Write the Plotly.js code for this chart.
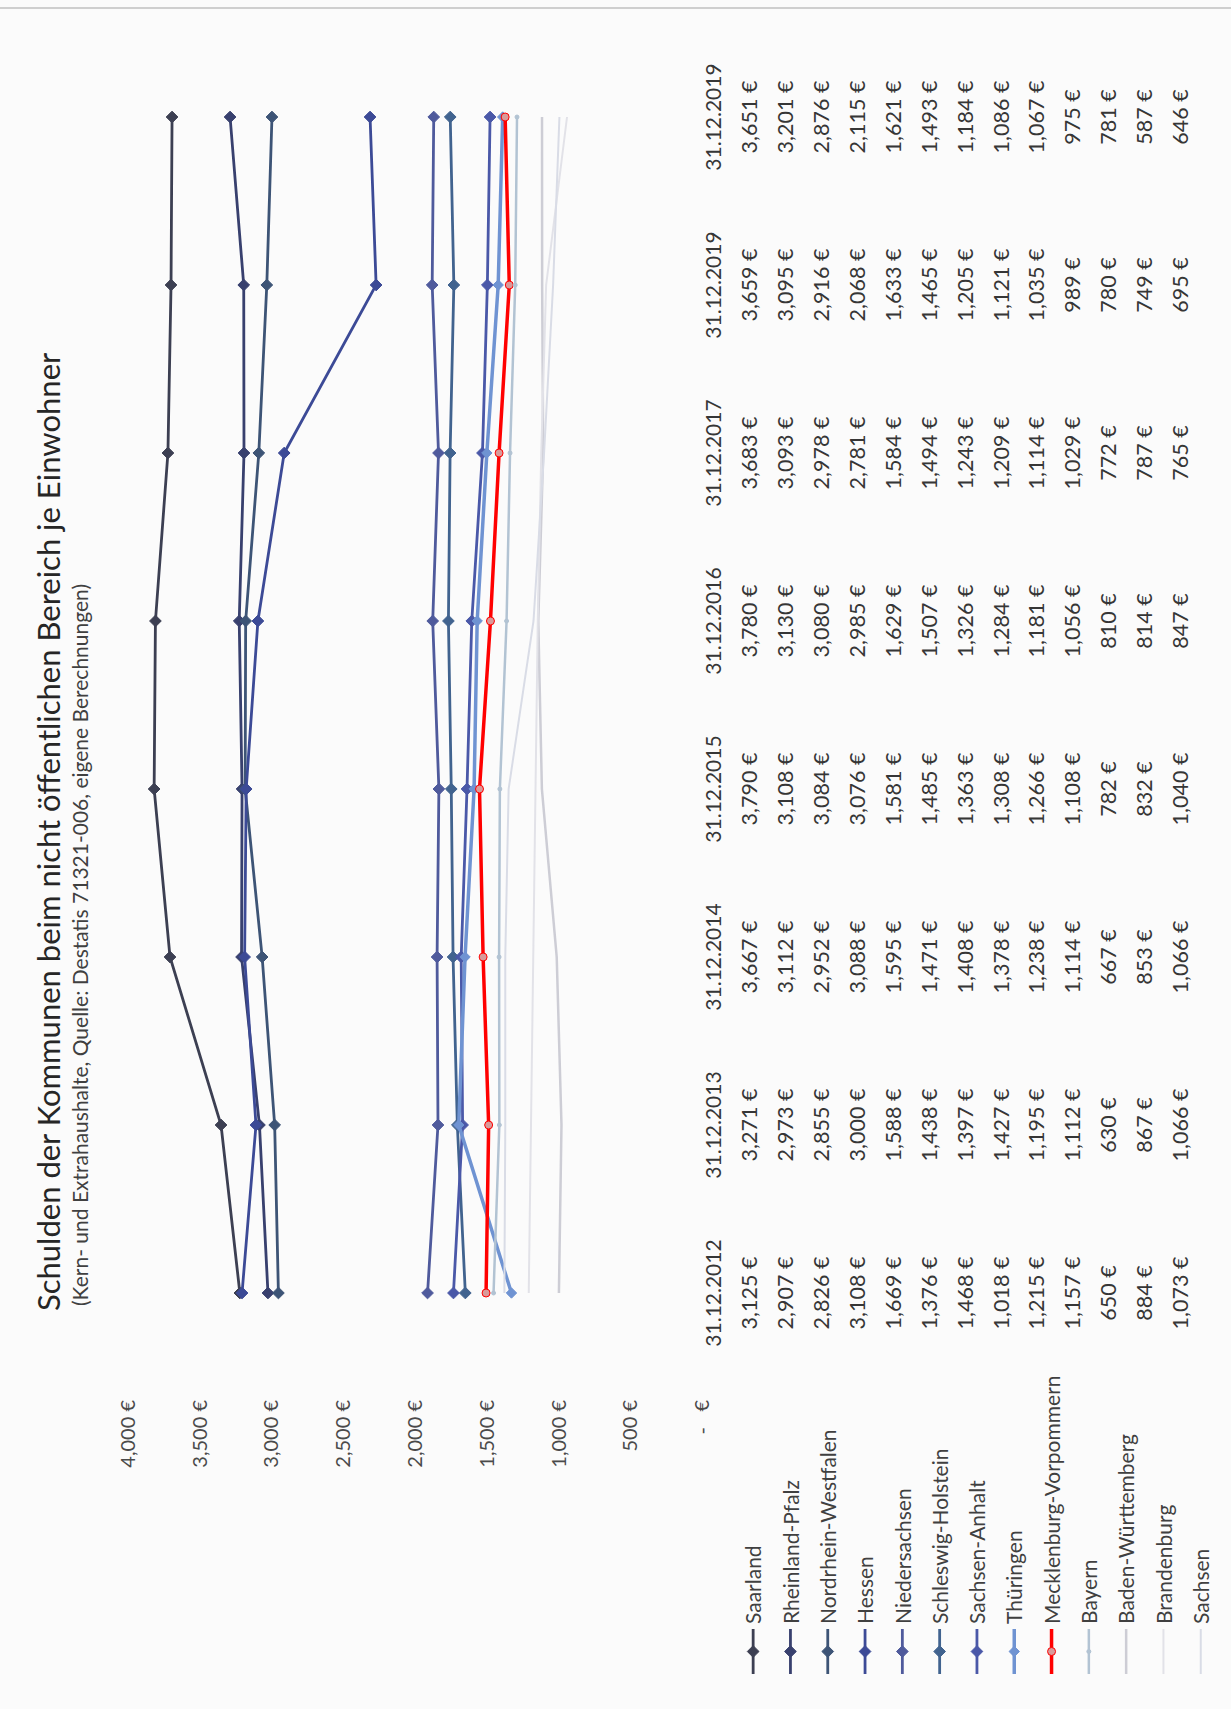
<!DOCTYPE html>
<html>
<head>
<meta charset="utf-8">
<script src="https://cdn.plot.ly/plotly-3.0.1.min.js"></script>
<style>
  html, body { margin: 0; padding: 0; background: #ffffff; overflow: hidden; }
  #blatt { position: absolute; left: 0; top: 0; width: 1231px; height: 1709px; overflow: hidden; background: #ffffff; }
  /* the chart is laid out in landscape and turned onto the portrait page */
  #chart { position: absolute; left: 0; top: 0; width: 1709px; height: 1231px;
           transform-origin: 0 0; transform: translate(0px, 1709px) rotate(-90deg); }
</style>
</head>
<body>
<div id="blatt"><div id="chart"></div></div>
<script>
// Stichtage (the sheet labels the last two columns identically)
const stichtage = ['31.12.2012', '31.12.2013', '31.12.2014', '31.12.2015',
                   '31.12.2016', '31.12.2017', '31.12.2019', '31.12.2019'];

const laender = ['Saarland', 'Rheinland-Pfalz', 'Nordrhein-Westfalen', 'Hessen',
                 'Niedersachsen', 'Schleswig-Holstein', 'Sachsen-Anhalt', 'Thüringen',
                 'Mecklenburg-Vorpommern', 'Bayern', 'Baden-Württemberg', 'Brandenburg', 'Sachsen'];

// Schulden je Einwohner in Euro
const saarland              = [3125, 3271, 3667, 3790, 3780, 3683, 3659, 3651];
const rheinlandPfalz        = [2907, 2973, 3112, 3108, 3130, 3093, 3095, 3201];
const nordrheinWestfalen    = [2826, 2855, 2952, 3084, 3080, 2978, 2916, 2876];
const hessen                = [3108, 3000, 3088, 3076, 2985, 2781, 2068, 2115];
const niedersachsen         = [1669, 1588, 1595, 1581, 1629, 1584, 1633, 1621];
const schleswigHolstein     = [1376, 1438, 1471, 1485, 1507, 1494, 1465, 1493];
const sachsenAnhalt         = [1468, 1397, 1408, 1363, 1326, 1243, 1205, 1184];
const thueringen            = [1018, 1427, 1378, 1308, 1284, 1209, 1121, 1086];
const mecklenburgVorpommern = [1215, 1195, 1238, 1266, 1181, 1114, 1035, 1067];
const bayern                = [1157, 1112, 1114, 1108, 1056, 1029,  989,  975];
const badenWuerttemberg     = [ 650,  630,  667,  782,  810,  772,  780,  781];
const brandenburg           = [ 884,  867,  853,  832,  814,  787,  749,  587];
const sachsen               = [1073, 1066, 1066, 1040,  847,  765,  695,  646];

// value axis labels
const achsenWerte = [0, 500, 1000, 1500, 2000, 2500, 3000, 3500, 4000];
const achsenText  = ['-   €', '500 €', '1,000 €', '1,500 €', '2,000 €', '2,500 €', '3,000 €', '3,500 €', '4,000 €'];

const reihen = [saarland, rheinlandPfalz, nordrheinWestfalen, hessen, niedersachsen,
                schleswigHolstein, sachsenAnhalt, thueringen, mecklenburgVorpommern,
                bayern, badenWuerttemberg, brandenburg, sachsen];

// line styles per state
const stil = [
  { farbe: '#3c3f52', breite: 2.8, symbol: 'diamond', groesse: 9, fuellung: '#3c3f52' },
  { farbe: '#38406e', breite: 2.8, symbol: 'diamond', groesse: 9, fuellung: '#38406e' },
  { farbe: '#3d5476', breite: 2.8, symbol: 'diamond', groesse: 9, fuellung: '#3d5476' },
  { farbe: '#3c4a96', breite: 2.8, symbol: 'diamond', groesse: 9, fuellung: '#3c4a96' },
  { farbe: '#4f5a9c', breite: 2.8, symbol: 'diamond', groesse: 9, fuellung: '#4f5a9c' },
  { farbe: '#41638f', breite: 2.8, symbol: 'diamond', groesse: 9, fuellung: '#41638f' },
  { farbe: '#4a58a8', breite: 2.8, symbol: 'diamond', groesse: 9, fuellung: '#4a58a8' },
  { farbe: '#6f93d2', breite: 3.5, symbol: 'diamond', groesse: 8, fuellung: '#6f93d2' },
  { farbe: '#ff0000', breite: 3.5, symbol: 'circle',  groesse: 8, fuellung: '#d99a9a' },
  { farbe: '#b2c3d3', breite: 2.5, symbol: 'circle',  groesse: 4, fuellung: '#b2c3d3' },
  { farbe: '#cdcdd5', breite: 2.5, symbol: 'circle',  groesse: 0, fuellung: '#cdcdd5' },
  { farbe: '#e2e2e8', breite: 2,   symbol: 'circle',  groesse: 0, fuellung: '#e2e2e8' },
  { farbe: '#d9dce6', breite: 2,   symbol: 'circle',  groesse: 0, fuellung: '#d9dce6' }
];

const idx = stichtage.map((_, i) => i);
const euro = v => v.toLocaleString('en-US') + ' €';
const schrift = 'Lato, "Open Sans", sans-serif';

const traces = [];

// lines
reihen.forEach((werte, j) => {
  const s = stil[j];
  traces.push({
    type: 'scatter', mode: s.groesse > 0 ? 'lines+markers' : 'lines',
    name: laender[j], legendgroup: laender[j],
    x: idx, y: werte, xaxis: 'x', yaxis: 'y',
    line: { color: s.farbe, width: s.breite },
    marker: { symbol: s.symbol, size: s.groesse, color: s.fuellung,
              line: { color: s.farbe, width: 1 } },
    hoverinfo: 'skip'
  });
});

// empty trace that carries the labelled value axis
traces.push({
  type: 'scatter', mode: 'markers', showlegend: false, hoverinfo: 'skip',
  x: [null], y: [null], xaxis: 'x', yaxis: 'y2'
});

// data table: header row and one row per state
traces.push({
  type: 'scatter', mode: 'text', showlegend: false, hoverinfo: 'skip',
  x: idx, y: idx.map(() => 0), xaxis: 'x', yaxis: 'y3',
  text: stichtage, textposition: 'middle center',
  textfont: { family: schrift, size: 21, color: '#363636' }
});
reihen.forEach((werte, j) => {
  traces.push({
    type: 'scatter', mode: 'text', showlegend: false, hoverinfo: 'skip',
    x: idx, y: idx.map(() => j + 1), xaxis: 'x', yaxis: 'y3',
    text: werte.map(euro), textposition: 'middle center',
    textfont: { family: schrift, size: 21.5, color: '#363636' }
  });
});

const W = 1709, H = 1231;

const layout = {
  width: W, height: H,
  margin: { l: 0, r: 0, t: 0, b: 0, pad: 0 },
  paper_bgcolor: '#fbfbfb', plot_bgcolor: 'rgba(0,0,0,0)',
  font: { family: schrift, color: '#404040' },
  showlegend: true,
  xaxis: {
    domain: [332 / W, 1676 / W], range: [-0.5, stichtage.length - 0.5],
    showticklabels: false, showgrid: false, zeroline: false, showline: false, ticks: ''
  },
  yaxis: {
    domain: [1 - 720 / H, 1 - 100 / H], range: [-599.7, 4210],
    showticklabels: false, showgrid: false, zeroline: false, showline: false, ticks: ''
  },
  yaxis2: {
    overlaying: 'y', anchor: 'free', position: 309 / W, side: 'left',
    range: [-125.4, 4195],
    tickmode: 'array', tickvals: achsenWerte, ticktext: achsenText,
    tickfont: { family: schrift, size: 20, color: '#4a4a4a' },
    showgrid: false, zeroline: false, showline: false, ticks: ''
  },
  yaxis3: {
    domain: [1 - 1200.7 / H, 1 - 698 / H], range: [13.5, -0.5],
    anchor: 'x', showticklabels: false, showgrid: false, zeroline: false, showline: false, ticks: ''
  },
  legend: {
    x: 30 / W, xanchor: 'left', y: 1 - 733 / H, yanchor: 'top',
    bgcolor: 'rgba(0,0,0,0)', borderwidth: 0, itemwidth: 45,
    traceorder: 'grouped', tracegroupgap: 7,
    font: { family: schrift, size: 21, color: '#404040' }
  },
  annotations: [
    { text: 'Schulden der Kommunen beim nicht öffentlichen Bereich je Einwohner',
      xref: 'paper', yref: 'paper', x: 396 / W, y: 1 - 48 / H, xanchor: 'left', yanchor: 'middle',
      showarrow: false, font: { family: schrift, size: 31, color: '#262626' } },
    { text: '(Kern- und Extrahaushalte, Quelle: Destatis 71321-006, eigene Berechnungen)',
      xref: 'paper', yref: 'paper', x: 401 / W, y: 1 - 80 / H, xanchor: 'left', yanchor: 'middle',
      showarrow: false, font: { family: schrift, size: 21, color: '#404040' } }
  ],
  shapes: [
    { type: 'line', xref: 'paper', yref: 'paper', x0: 1701 / W, x1: 1701 / W, y0: 0, y1: 1,
      line: { color: '#cfcfcf', width: 2 } }
  ]
};

Plotly.newPlot('chart', traces, layout, { staticPlot: true, displayModeBar: false });
</script>
</body>
</html>
